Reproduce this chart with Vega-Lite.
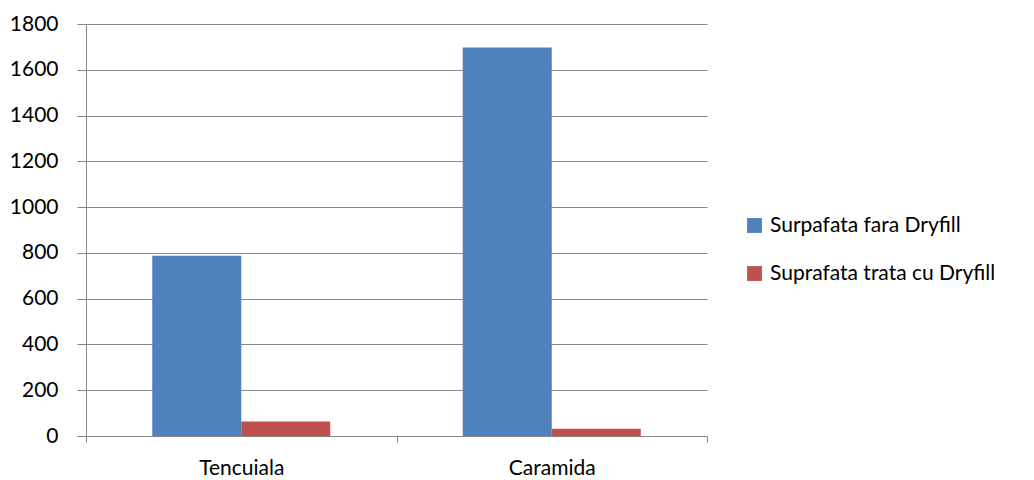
{
  "$schema": "https://vega.github.io/schema/vega-lite/v6.json",
  "autosize": "none",
  "padding": {"left": 86, "top": 24, "right": 327, "bottom": 44},
  "width": 621,
  "height": 412,
  "background": "white",
  "config": {
    "view": {"stroke": null},
    "font": "Lato"
  },
  "data": {
    "values": [
      {"category": "Tencuiala", "series": "Surpafata fara Dryfill", "value": 788},
      {"category": "Tencuiala", "series": "Suprafata trata cu Dryfill", "value": 63},
      {"category": "Caramida", "series": "Surpafata fara Dryfill", "value": 1697},
      {"category": "Caramida", "series": "Suprafata trata cu Dryfill", "value": 32}
    ]
  },
  "mark": {"type": "bar"},
  "encoding": {
    "x": {
      "field": "category",
      "type": "nominal",
      "sort": ["Tencuiala", "Caramida"],
      "scale": {"paddingInner": 0, "paddingOuter": 0},
      "axis": {
        "title": null,
        "labelAngle": 0,
        "labelFont": "Lato",
        "labelFontSize": 21,
        "labelColor": "#000000",
        "domainColor": "#868686",
        "tickColor": "#868686",
        "ticks": true,
        "tickBand": "extent",
        "tickSize": 6,
        "labelPadding": 15,
        "labelBaseline": "top"
      }
    },
    "xOffset": {
      "field": "series",
      "type": "nominal",
      "sort": ["Surpafata fara Dryfill", "Suprafata trata cu Dryfill"],
      "scale": {"paddingInner": 0, "paddingOuter": 0.7444}
    },
    "y": {
      "field": "value",
      "type": "quantitative",
      "scale": {"domain": [0, 1800], "nice": false},
      "axis": {
        "title": null,
        "values": [0, 200, 400, 600, 800, 1000, 1200, 1400, 1600, 1800],
        "format": "d",
        "labelFont": "Lato",
        "labelFontSize": 21,
        "labelColor": "#000000",
        "grid": true,
        "gridColor": "#868686",
        "gridWidth": 1,
        "domainColor": "#868686",
        "ticks": true,
        "tickColor": "#868686",
        "tickSize": 9,
        "labelPadding": 19
      }
    },
    "color": {
      "field": "series",
      "type": "nominal",
      "sort": ["Surpafata fara Dryfill", "Suprafata trata cu Dryfill"],
      "scale": {"range": ["#4F81BD", "#C0504D"]},
      "legend": {
        "title": null,
        "orient": "none",
        "legendX": 658,
        "legendY": 191,
        "symbolType": "square",
        "symbolSize": 220,
        "symbolStrokeWidth": 0,
        "labelFont": "Lato",
        "labelFontSize": 21,
        "labelColor": "#000000",
        "labelLimit": 400,
        "labelOffset": 5,
        "rowPadding": 26
      }
    }
  }
}
